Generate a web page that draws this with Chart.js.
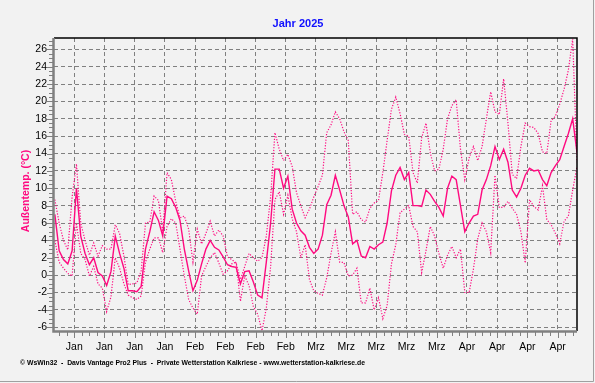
<!DOCTYPE html>
<html>
<head>
<meta charset="utf-8">
<script src="https://cdn.jsdelivr.net/npm/chart.js@4.4.1/dist/chart.umd.min.js"></script>
<style>
  html, body { margin: 0; padding: 0; background: #f2f2f2; }
  #wrap { width: 595px; height: 383px; }
</style>
</head>
<body>
<div id="wrap"><canvas id="tempChart" width="595" height="383"></canvas></div>
<script>
// Tageswerte Außentemperatur, 31.12. bis 1.5. (ein Wert pro Tag)
const maxTemp = [
  8.7, 6.0, 4.0, 2.9, 9.0, 12.8, 6.0, 4.0, 2.3, 3.7, 2.2, 3.4, 3.0, 3.0, 5.8, 4.8, 2.2, -1.1, -1.0, -0.9,
  0.5, 6.0, 6.1, 9.1, 8.6, 5.0, 11.8, 11.0, 8.5, 6.6, 6.8, 5.3, 1.5, 5.3, 3.6, 4.8, 6.2, 4.5, 5.2, 4.5,
  2.1, 1.8, 1.4, -0.5, 1.0, 2.5, 2.0, 1.6, 2.0, 4.5, 9.0, 16.4, 14.5, 13.2, 13.9, 12.5, 9.5, 8.0, 6.6, 7.6,
  9.0, 10.2, 11.5, 16.4, 17.3, 18.8, 18.0, 16.5, 15.5, 7.0, 7.3, 6.4, 6.1, 7.7, 8.3, 8.6, 11.8, 15.5, 19.1, 20.5,
  18.6, 16.2, 16.0, 11.8, 10.6, 15.8, 17.5, 14.1, 12.0, 12.2, 14.5, 18.0, 19.5, 20.2, 14.5, 11.0, 13.5, 14.8, 13.2, 14.8,
  18.0, 21.1, 18.8, 18.5, 22.6, 17.5, 11.6, 11.1, 14.8, 17.5, 17.1, 17.0, 16.3, 14.2, 14.0, 17.8, 18.3, 19.7, 21.4, 23.6,
  27.2, 13.0
];
const meanTemp = [
  7.0, 2.8, 1.8, 1.3, 2.8, 10.0, 4.5, 2.5, 1.2, 2.0, 0.3, -0.1, -1.2, 0.4, 4.5, 2.5, 0.8, -1.8, -1.8, -1.9,
  -1.3, 3.0, 5.0, 7.3, 6.3, 4.5, 9.1, 8.8, 7.8, 6.3, 3.0, 0.5, -1.8, -0.6, 1.3, 3.0, 4.0, 3.2, 2.9, 2.1,
  1.2, 1.0, 0.9, -1.0, 0.4, 0.5, -0.8, -2.3, -2.6, 1.5, 6.0, 12.2, 12.2, 10.0, 11.4, 7.6, 6.0, 5.1, 4.6, 3.2,
  2.5, 3.0, 4.6, 8.1, 9.2, 11.5, 9.8, 8.0, 6.7, 3.6, 4.0, 2.2, 2.0, 3.3, 3.0, 3.5, 3.8, 6.0, 9.7, 11.5,
  12.4, 11.0, 11.8, 8.0, 8.0, 7.9, 9.8, 9.3, 8.5, 7.8, 6.8, 10.0, 11.4, 11.0, 8.0, 5.0, 6.0, 6.8, 7.0, 9.8,
  11.0, 12.6, 14.8, 13.3, 14.5, 13.0, 9.8, 9.0, 10.0, 11.5, 12.3, 12.0, 12.1, 11.0, 10.3, 11.8, 12.6, 13.3, 14.8, 16.3,
  18.0, 14.1
];
const minTemp = [
  4.0, 1.5, 0.8, 0.2, -0.1, 6.0, 2.5, 1.8, -0.1, 1.0, -1.0, -1.5, -4.2, -2.5, 2.0, 0.8, -1.0, -2.3, -2.6, -2.8,
  -2.4, 1.5, 3.0, 4.3, 4.3, 2.6, 5.6, 6.5, 6.0, 3.0, -0.1, -2.8, -3.8, -4.5, -0.1, 1.0, 2.0, 2.6, 1.4, 0.1,
  0.5, 1.3, 1.5, -3.0, -0.1, -1.2, -3.6, -4.5, -6.4, -3.8, 1.0, 8.7, 9.6, 7.0, 9.2, 6.5, 5.0, 2.0, 3.5, -0.5,
  -1.8, -2.1, -2.3, -0.3, 2.5, 5.0, 1.5, 1.45, -0.1, 0.0, 0.8, -3.2, -3.2, -1.5, -4.0, -2.6, -5.0, -3.5, 1.3, 3.5,
  7.2, 7.6, 8.0, 5.6, 5.0, 0.3, 2.8, 5.6, 4.5, 2.5, 0.8, 2.3, 3.3, 2.0, 3.0, -2.0, -2.0, 0.7, 4.2, 6.0,
  5.0, 2.6, 11.5, 7.8, 7.8, 8.5, 7.7, 7.0, 5.0, 1.4, 8.7, 7.9, 7.5, 10.3, 6.4, 5.8, 4.8, 3.6, 6.2, 6.8,
  9.8, 12.5
];

// Wochenraster: Tage seit 1.1. (Sonntage) und ihre Beschriftung
const tickDays = [4, 11, 18, 25, 32, 39, 46, 53, 60, 67, 74, 81, 88, 95, 102, 109, 116];
const tickLabels = ['Jan', 'Jan', 'Jan', 'Jan', 'Feb', 'Feb', 'Feb', 'Feb', 'Mrz', 'Mrz', 'Mrz', 'Mrz', 'Mrz', 'Apr', 'Apr', 'Apr', 'Apr'];
const yTicks = [-6, -4, -2, 0, 2, 4, 6, 8, 10, 12, 14, 16, 18, 20, 22, 24, 26];

const PINK = '#ff0a80';
const FONT = 'Arial, "Liberation Sans", sans-serif';

// Tageswert i liegt in der Tagesmitte, erster Wert ist der 31.12.
function toPoints(arr) {
    return arr.map((v, i) => ({ x: i - 0.5, y: v }));
}

const framePlugin = {
    id: 'frame',
    beforeDraw(chart) {
        const ctx = chart.ctx;
        ctx.save();
        ctx.fillStyle = '#f2f2f2';
        ctx.fillRect(0, 0, chart.width, chart.height);
        ctx.restore();
    },
    afterDraw(chart) {
        const ctx = chart.ctx;
        const a = chart.chartArea;
        const xs = chart.scales.x;
        const ys = chart.scales.y;
        ctx.save();

        // Rahmen: oben/rechts schwarz, Achsen links/unten grau
        ctx.strokeStyle = '#000';
        ctx.lineWidth = 1.5;
        ctx.beginPath();
        ctx.moveTo(a.left, a.top);
        ctx.lineTo(a.right, a.top);
        ctx.lineTo(a.right, a.bottom);
        ctx.stroke();

        ctx.strokeStyle = '#808080';
        ctx.lineWidth = 2.5;
        ctx.beginPath();
        ctx.moveTo(a.left - 0.5, a.top);
        ctx.lineTo(a.left - 0.5, a.bottom + 0.5);
        ctx.lineTo(a.right, a.bottom + 0.5);
        ctx.stroke();

        // kleine Striche an den Achsen
        ctx.lineWidth = 1;
        ctx.beginPath();
        for (let v = -6; v <= 27; v += 0.5) {
            const py = Math.round(ys.getPixelForValue(v)) + 0.5;
            const len = (v % 2 === 0) ? 5 : 3;
            ctx.moveTo(a.left - 2 - len, py);
            ctx.lineTo(a.left - 1, py);
        }
        for (let d = 0.5; d <= 120.5; d += 1.75) {
            const px = Math.round(xs.getPixelForValue(d)) + 0.5;
            const len = ((d - 4) % 7 === 0) ? 5 : 3;
            ctx.moveTo(px, a.bottom + 1);
            ctx.lineTo(px, a.bottom + 2 + len);
        }
        ctx.stroke();

        // Beschriftung der Achsen
        ctx.fillStyle = '#000';
        ctx.font = '10.5px ' + FONT;
        ctx.textAlign = 'right';
        ctx.textBaseline = 'middle';
        yTicks.forEach(v => {
            ctx.fillText(String(v), a.left - 7, ys.getPixelForValue(v));
        });
        ctx.textAlign = 'center';
        tickDays.forEach((d, i) => {
            ctx.fillText(tickLabels[i], xs.getPixelForValue(d), a.bottom + 16);
        });

        // Titel
        ctx.fillStyle = '#1010ff';
        ctx.font = 'bold 11px ' + FONT;
        ctx.fillText('Jahr 2025', 298, 24);

        // y-Achsentitel
        ctx.save();
        ctx.translate(26, 191);
        ctx.rotate(-Math.PI / 2);
        ctx.fillStyle = PINK;
        ctx.font = 'bold 10.5px ' + FONT;
        ctx.fillText('Außentemp. (°C)', 0, 0);
        ctx.restore();

        // Fußzeile
        ctx.fillStyle = '#000';
        ctx.font = 'bold 7px ' + FONT;
        ctx.textAlign = 'left';
        ctx.fillText('\u00a9 WsWin32  -  Davis Vantage Pro2 Plus  -  Private Wetterstation Kalkriese - www.wetterstation-kalkriese.de', 20, 363, 345);

        // äußerer Rahmen unten/rechts
        ctx.strokeStyle = '#a0a0a0';
        ctx.lineWidth = 1;
        ctx.beginPath();
        ctx.moveTo(0, chart.height - 1.5);
        ctx.lineTo(chart.width - 1.5, chart.height - 1.5);
        ctx.lineTo(chart.width - 1.5, 0);
        ctx.stroke();

        ctx.restore();
    }
};

document.addEventListener('DOMContentLoaded', function() {
    const ctx = document.getElementById('tempChart').getContext('2d');
    new Chart(ctx, {
        type: 'line',
        data: {
            datasets: [{
                label: 'Mittel',
                data: toPoints(meanTemp),
                borderColor: PINK,
                borderWidth: 1.4,
                pointRadius: 0,
                tension: 0
            }, {
                label: 'Maximum',
                data: toPoints(maxTemp),
                borderColor: PINK,
                borderWidth: 1.2,
                borderDash: [1.2, 1.6],
                pointRadius: 0,
                tension: 0
            }, {
                label: 'Minimum',
                data: toPoints(minTemp),
                borderColor: PINK,
                borderWidth: 1.2,
                borderDash: [1.2, 1.6],
                pointRadius: 0,
                tension: 0
            }]
        },
        options: {
            responsive: false,
            animation: false,
            devicePixelRatio: 1,
            layout: { padding: { left: 54, top: 38, right: 18, bottom: 52 } },
            plugins: {
                legend: { display: false },
                tooltip: { enabled: false },
                title: { display: false }
            },
            scales: {
                x: {
                    type: 'linear',
                    min: -0.7,
                    max: 120.5,
                    afterBuildTicks: s => { s.ticks = tickDays.map(v => ({ value: v })); },
                    afterFit: s => { s.height = 0; },
                    ticks: { display: false },
                    grid: { color: '#808080', lineWidth: 1, drawTicks: false },
                    border: { display: false, dash: [4, 3] }
                },
                y: {
                    type: 'linear',
                    min: -6.43,
                    max: 27.3,
                    afterBuildTicks: s => { s.ticks = yTicks.map(v => ({ value: v })); },
                    afterFit: s => { s.width = 0; },
                    ticks: { display: false },
                    grid: { color: '#808080', lineWidth: 1, drawTicks: false },
                    border: { display: false, dash: [4, 3] }
                }
            }
        },
        plugins: [framePlugin]
    });
});
</script>
</body>
</html>
